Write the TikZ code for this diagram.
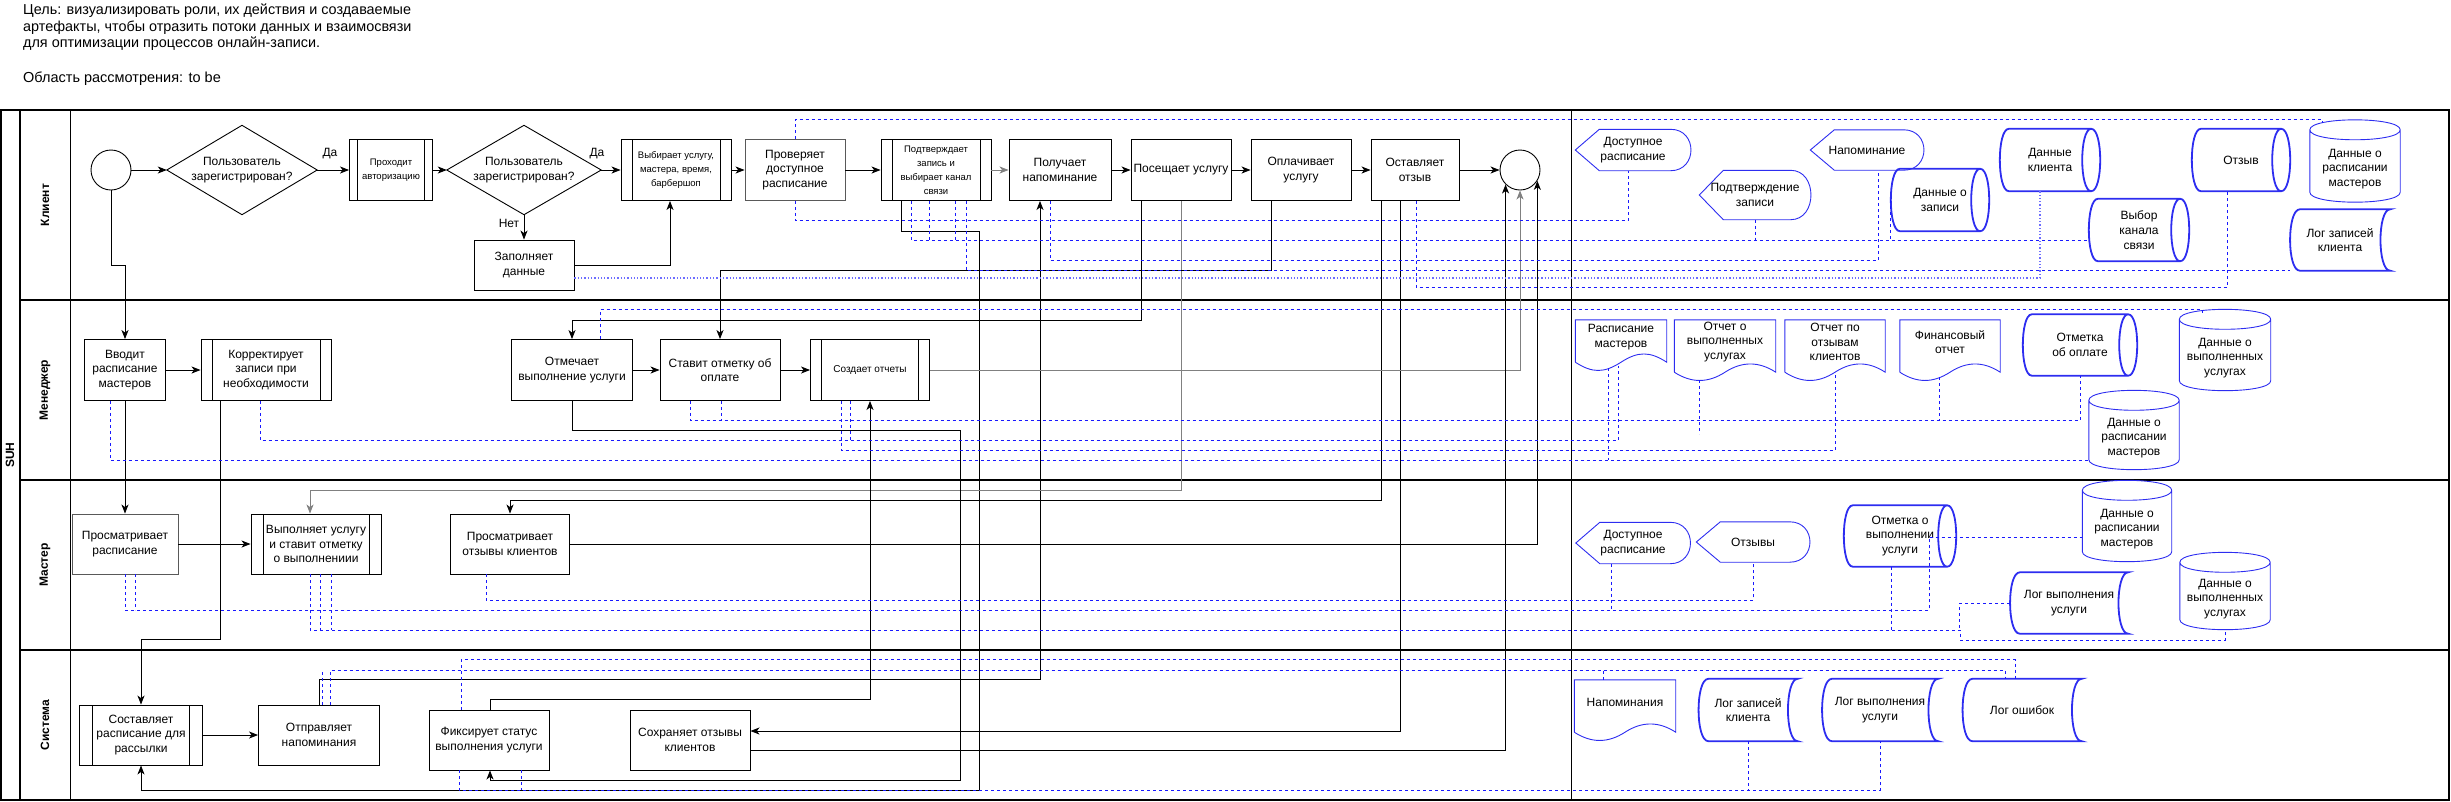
\documentclass[tikz,border=0pt]{standalone}
\usepackage{fontspec}
\setmainfont{Liberation Sans}
\usetikzlibrary{arrows.meta, calc}
\definecolor{artblue}{RGB}{45,45,240}
\definecolor{linkblue}{RGB}{25,25,255}
\definecolor{dotblue}{RGB}{110,110,255}
\definecolor{graylink}{RGB}{128,128,128}
\newcommand{\boxfont}{\fontsize{12}{14.4}\selectfont}
\newcommand{\smallfont}{\fontsize{9.5}{14}\selectfont}
\newcommand{\artfont}{\fontsize{12}{14.8}\selectfont}
\tikzset{
  pool/.style={draw=black, line width=1.3pt},
  proc/.style={rectangle, draw=black, fill=white, line width=0.9pt,
    minimum width=100pt, minimum height=61pt, inner sep=1pt,
    align=center, font=\boxfont},
  subproc/.style={proc, path picture={
    \draw[line width=0.9pt]
      ([xshift=#1]path picture bounding box.north west) -- ([xshift=#1]path picture bounding box.south west)
      ([xshift=-#1]path picture bounding box.north east) -- ([xshift=-#1]path picture bounding box.south east);}},
  subproc/.default=11pt,
  decis/.style={rectangle, minimum width=150pt, minimum height=89pt, inner sep=0pt,
    align=center, font=\boxfont,
    append after command={\pgfextra{\begin{pgfinterruptpath}
      \draw[line width=0.9pt] (\tikzlastnode.west) -- (\tikzlastnode.north)
        -- (\tikzlastnode.east) -- (\tikzlastnode.south) -- cycle;
    \end{pgfinterruptpath}}}},
  evt/.style={circle, draw=black, fill=white, line width=0.9pt, minimum size=40pt, inner sep=0pt},
  flow/.style={draw=black, line width=0.9pt, -{Stealth[length=9pt, width=7pt, inset=2.5pt]}},
  grayflow/.style={flow, draw=graylink},
  datalink/.style={draw=linkblue, line width=0.7pt, dash pattern=on 3pt off 3pt},
  dotlink/.style={draw=dotblue, line width=1.3pt, dash pattern=on 1.3pt off 2pt},
  lanelbl/.style={rotate=90, font=\bfseries\fontsize{12}{14}\selectfont},
  yesno/.style={font=\boxfont, inner sep=1pt},
  art/.style={rectangle, inner sep=1pt, align=center, font=\artfont},
  thinart/.style={draw=artblue, line width=0.9pt},
  thickart/.style={draw=artblue, line width=1.8pt},
  display/.style={art, append after command={\pgfextra{\begin{pgfinterruptpath}
    \draw[thinart] (\tikzlastnode.west) -- ([xshift=24pt]\tikzlastnode.north west)
      -- ([xshift=-20pt]\tikzlastnode.north east)
      .. controls ([xshift=7pt]\tikzlastnode.north east) and ([xshift=7pt]\tikzlastnode.south east) .. ([xshift=-20pt]\tikzlastnode.south east)
      -- ([xshift=24pt]\tikzlastnode.south west) -- cycle;
    \end{pgfinterruptpath}}}},
  docu/.style={art, append after command={\pgfextra{\begin{pgfinterruptpath}
    \draw[thinart] ([yshift=-8pt]\tikzlastnode.south west) -- (\tikzlastnode.north west)
      -- (\tikzlastnode.north east) -- ([yshift=-8pt]\tikzlastnode.south east)
      .. controls ([xshift=-17pt,yshift=3pt]\tikzlastnode.south east) and ([xshift=17pt,yshift=3pt]\tikzlastnode.south) .. ([yshift=-8pt]\tikzlastnode.south)
      .. controls ([xshift=-17pt,yshift=-19pt]\tikzlastnode.south) and ([xshift=17pt,yshift=-19pt]\tikzlastnode.south west) .. ([yshift=-8pt]\tikzlastnode.south west);
    \end{pgfinterruptpath}}}},
  stored/.style={art, append after command={\pgfextra{\begin{pgfinterruptpath}
    \draw[thickart] ([xshift=10pt]\tikzlastnode.north west) -- (\tikzlastnode.north east)
      .. controls ([xshift=-13pt]\tikzlastnode.north east) and ([xshift=-13pt]\tikzlastnode.south east) .. (\tikzlastnode.south east)
      -- ([xshift=10pt]\tikzlastnode.south west)
      .. controls ([xshift=-3pt]\tikzlastnode.south west) and ([xshift=-3pt]\tikzlastnode.north west) .. ([xshift=10pt]\tikzlastnode.north west);
    \end{pgfinterruptpath}}}},
  hcyl/.style={art, append after command={\pgfextra{\begin{pgfinterruptpath}
    \draw[thickart] ([xshift=9pt]\tikzlastnode.north west) -- ([xshift=-9pt]\tikzlastnode.north east)
      .. controls ([xshift=3pt]\tikzlastnode.north east) and ([xshift=3pt]\tikzlastnode.south east) .. ([xshift=-9pt]\tikzlastnode.south east)
      -- ([xshift=9pt]\tikzlastnode.south west)
      .. controls ([xshift=-3pt]\tikzlastnode.south west) and ([xshift=-3pt]\tikzlastnode.north west) .. ([xshift=9pt]\tikzlastnode.north west)
      ([xshift=-9pt]\tikzlastnode.north east)
      .. controls ([xshift=-21pt]\tikzlastnode.north east) and ([xshift=-21pt]\tikzlastnode.south east) .. ([xshift=-9pt]\tikzlastnode.south east);
    \end{pgfinterruptpath}}}},
  vcyl/.style={art, append after command={\pgfextra{\begin{pgfinterruptpath}
    \draw[thinart] ([yshift=6pt]\tikzlastnode.north west) -- ([yshift=10pt]\tikzlastnode.south west)
      .. controls ([yshift=-3.3pt]\tikzlastnode.south west) and ([yshift=-3.3pt]\tikzlastnode.south east) .. ([yshift=10pt]\tikzlastnode.south east)
      -- ([yshift=6pt]\tikzlastnode.north east)
      .. controls ([yshift=19.3pt]\tikzlastnode.north east) and ([yshift=19.3pt]\tikzlastnode.north west) .. ([yshift=6pt]\tikzlastnode.north west)
      .. controls ([yshift=-7.3pt]\tikzlastnode.north west) and ([yshift=-7.3pt]\tikzlastnode.north east) .. ([yshift=6pt]\tikzlastnode.north east);
    \end{pgfinterruptpath}}}}
}

\begin{document}
\begin{tikzpicture}[x=1pt, y=-1pt]
  \useasboundingbox (0,0) rectangle (2451,801);

  % header
  \node[anchor=north west, align=left, inner sep=0pt, font=\fontsize{14.4}{16.4}\selectfont] (hdr_goal) at (23,4)
    {Цель: визуализировать роли, их действия и создаваемые\\артефакты, чтобы отразить потоки данных и взаимосвязи\\для оптимизации процессов онлайн-записи.};
  \node[anchor=north west, inner sep=0pt, font=\fontsize{14.5}{16}\selectfont] (hdr_scope) at (23,72) {Область рассмотрения: to be};

  % pool and lanes
  \draw[pool] (1,110) rectangle (2449,800);
  \draw[pool] (20,110) -- (20,800);
  \draw[line width=0.7pt] (70,110) -- (70,800);
  \draw[pool] (20,300) -- (2449,300) (20,480) -- (2449,480) (20,650) -- (2449,650);
  \draw[line width=0.7pt] (1571,110) -- (1571,800);
  \node[lanelbl] (lb_suh) at (10,455) {SUH};
  \node[lanelbl] (lb_cl) at (45,205) {Клиент};
  \node[lanelbl] (lb_mg) at (45,390) {Менеджер};
  \node[lanelbl] (lb_ms) at (45,565) {Мастер};
  \node[lanelbl] (lb_sy) at (45,725) {Система};

  % client
  \node[evt] (c_start) at (111,170) {};
  \node[decis] (c_reg1) at (242,170) {Пользователь\\зарегистрирован?};
  \node[subproc=8pt, minimum width=83pt, font=\smallfont] (c_auth) at (391,170) {Проходит\\авторизацию};
  \node[decis, minimum width=154pt] (c_reg2) at (524,170) {Пользователь\\зарегистрирован?};
  \node[proc, minimum height=50pt] (c_fill) at (524,265) {Заполняет\\данные};
  \node[subproc, minimum width=110pt, font=\smallfont] (c_sel) at (676,170) {Выбирает услугу,\\мастера, время,\\барбершоп};
  \node[proc, draw=black!65] (c_chk) at (795,170) {Проверяет\\доступное\\расписание};
  \node[subproc, minimum width=110pt, font=\smallfont] (c_conf) at (936,170) {Подтверждает\\запись и\\выбирает канал\\связи};
  \node[proc, minimum width=102pt] (c_rem) at (1060,170) {Получает\\напоминание};
  \node[proc] (c_visit) at (1181,170) {Посещает услугу};
  \node[proc] (c_pay) at (1301,170) {Оплачивает\\услугу};
  \node[proc, minimum width=88pt] (c_rev) at (1415,170) {Оставляет\\отзыв};
  \node[evt] (c_end) at (1520,170) {};
  \node[yesno] (l_yes1) at (330,154) {Да};
  \node[yesno] (l_yes2) at (597,154) {Да};
  \node[yesno] (l_no) at (509,223) {Нет};

  % manager
  \node[proc, minimum width=81pt] (m_sched) at (125,370) {Вводит\\расписание\\мастеров};
  \node[subproc, minimum width=130pt] (m_corr) at (266,370) {Корректирует\\записи при\\необходимости};
  \node[proc, minimum width=121pt] (m_mark) at (572,370) {Отмечает\\выполнение услуги};
  \node[proc, minimum width=120pt] (m_pay) at (720,370) {Ставит отметку об\\оплате};
  \node[subproc, minimum width=119pt, font=\fontsize{10}{12}\selectfont] (m_rep) at (870,370) {Создает отчеты};

  % master
  \node[proc, minimum width=106pt, minimum height=60pt, draw=black!65] (s_view) at (125,544) {Просматривает\\расписание};
  \node[subproc=12pt, minimum width=130pt, minimum height=60pt] (s_do) at (316,544) {Выполняет услугу\\и ставит отметку\\о выполнениии};
  \node[proc, minimum width=119pt, minimum height=60pt] (s_rev) at (510,544) {Просматривает\\отзывы клиентов};

  % system
  \node[subproc=13pt, minimum width=123pt, minimum height=60pt] (y_plan) at (141,735) {Составляет\\расписание для\\рассылки};
  \node[proc, minimum width=121pt, minimum height=60pt] (y_send) at (319,735) {Отправляет\\напоминания};
  \node[proc, minimum width=120pt, minimum height=60pt] (y_fix) at (489,740) {Фиксирует статус\\выполнения услуги};
  \node[proc, minimum width=120pt, minimum height=60pt] (y_save) at (690,740) {Сохраняет отзывы\\клиентов};

  % artifacts: client
  \node[display, minimum width=115pt, minimum height=41pt] (cl_dr) at (1633,150) {Доступное\\расписание};
  \node[display, minimum width=111pt, minimum height=49pt] (cl_pz) at (1755,195) {Подтверждение\\записи};
  \node[display, minimum width=113pt, minimum height=40pt] (cl_nap) at (1867,150) {Напоминание};
  \node[hcyl, minimum width=98pt, minimum height=62pt] (cl_dz) at (1940,200) {Данные о\\записи};
  \node[hcyl, minimum width=100pt, minimum height=62pt] (cl_dk) at (2050,160) {Данные\\клиента};
  \node[hcyl, minimum width=100pt, minimum height=62pt] (cl_vk) at (2139,230) {Выбор\\канала\\связи};
  \node[hcyl, minimum width=98pt, minimum height=62pt] (cl_otz) at (2241,160) {Отзыв};
  \node[vcyl, minimum width=90pt, minimum height=66pt] (cl_drm) at (2355,169) {Данные о\\расписании\\мастеров};
  \node[stored, minimum width=100pt, minimum height=61pt] (cl_log) at (2340,240) {Лог записей\\клиента};

  % artifacts: manager
  \node[docu, minimum width=91pt, minimum height=34pt] (mg_rm) at (1621,337) {Расписание\\мастеров};
  \node[docu, minimum width=101pt, minimum height=44pt] (mg_ovu) at (1725,342) {Отчет о\\выполненных\\услугах};
  \node[docu, minimum width=100pt, minimum height=44pt] (mg_oo) at (1835,342) {Отчет по\\отзывам\\клиентов};
  \node[docu, minimum width=100pt, minimum height=44pt] (mg_fo) at (1950,342) {Финансовый\\отчет};
  \node[hcyl, minimum width=114pt, minimum height=61pt] (mg_oop) at (2080,345) {Отметка\\об оплате};
  \node[vcyl, minimum width=91pt, minimum height=65pt] (mg_dvu) at (2225,358) {Данные о\\выполненных\\услугах};
  \node[vcyl, minimum width=90pt, minimum height=63pt] (mg_drm) at (2134,438) {Данные о\\расписании\\мастеров};

  % artifacts: master
  \node[display, minimum width=114pt, minimum height=41pt] (ms_dr) at (1633,543) {Доступное\\расписание};
  \node[display, minimum width=113pt, minimum height=40pt] (ms_otz) at (1753,542) {Отзывы};
  \node[hcyl, minimum width=112pt, minimum height=61pt] (ms_ov) at (1900,536) {Отметка о\\выполнении\\услуги};
  \node[vcyl, minimum width=89pt, minimum height=65pt] (ms_drm) at (2127,529) {Данные о\\расписании\\мастеров};
  \node[stored, minimum width=118pt, minimum height=61pt] (ms_log) at (2069,603) {Лог выполнения\\услуги};
  \node[vcyl, minimum width=90pt, minimum height=61pt] (ms_dvu) at (2225,599) {Данные о\\выполненных\\услугах};

  % artifacts: system
  \node[docu, minimum width=101pt, minimum height=44pt] (sy_nap) at (1625,702) {Напоминания};
  \node[stored, minimum width=99pt, minimum height=62pt] (sy_lzk) at (1748,710) {Лог записей\\клиента};
  \node[stored, minimum width=116pt, minimum height=62pt] (sy_lvu) at (1880,710) {Лог выполнения\\услуги};
  \node[stored, minimum width=119pt, minimum height=62pt] (sy_lo) at (2022,710) {Лог ошибок};

  % main flow
  \draw[flow] (c_start) -- (c_reg1);
  \draw[flow] (c_reg1) -- (c_auth);
  \draw[flow] (c_auth) -- (c_reg2);
  \draw[flow] (c_reg2) -- (c_sel);
  \draw[flow] (c_reg2) -- (c_fill);
  \draw[flow] (c_fill.east) -| ([xshift=-6pt]c_sel.south);
  \draw[flow] (c_sel) -- (c_chk);
  \draw[flow] (c_chk) -- (c_conf);
  \draw[grayflow] (c_conf) -- (c_rem);
  \draw[flow] (c_rem) -- (c_visit);
  \draw[flow] (c_visit) -- (c_pay);
  \draw[flow] (c_pay) -- (c_rev);
  \draw[flow] (c_rev) -- (c_end);
  \draw[flow] (m_sched) -- (m_corr);
  \draw[flow] (m_mark) -- (m_pay);
  \draw[flow] (m_pay) -- (m_rep);
  \draw[flow] (s_view) -- (s_do);
  \draw[flow] (y_plan) -- (y_send);

  % between lanes
  \draw[flow] (c_start.south) -- ++(0,75) -| (m_sched.north);
  \draw[flow] (m_sched.south) -- (s_view.north);
  \draw[flow] ([xshift=-46pt]m_corr.south) -- ++(0,238) -| (y_plan.north);
  \draw[flow] ([xshift=-35pt]c_conf.south) -- ++(0,30) -- ++(78,0) -- ++(0,559) -| (y_plan.south);
  \draw[flow] (y_send.north) -- ++(0,-25) -| ([xshift=-20pt]c_rem.south);
  \draw[flow] ([xshift=-40pt]c_visit.south) -- ++(0,119.5) -| (m_mark.north);
  \draw[grayflow] (c_visit.south) -- ++(0,289.5) -| ([xshift=-6pt]s_do.north);
  \draw[flow] ([xshift=-30pt]c_pay.south) -- ++(0,69.5) -| (m_pay.north);
  \draw[flow] ([xshift=-34pt]c_rev.south) -- ++(0,299.5) -| (s_rev.north);
  \draw[flow] ([xshift=-15pt]c_rev.south) |- ([yshift=9pt]y_save.east);
  \draw[grayflow] (m_rep.east) -| (c_end.south);
  \draw[flow] (s_rev.east) -| (c_end.-32);
  \draw[flow] ([yshift=-10pt]y_save.east) -| (c_end.-135);
  \draw[flow] (m_mark.south) -- ++(0,29.5) -- ++(388,0) -- ++(0,350) -| ([xshift=1pt]y_fix.south);
  \draw[flow] ([xshift=1pt]y_fix.north) -- ++(0,-10) -| (m_rep.south);

  % data links: client
  \draw[datalink] (c_chk.north) -- ++(0,-19.5) -| ([xshift=-33pt,yshift=13pt]cl_drm.north);
  \draw[datalink] (c_chk.south) -- ++(0,19.5) -| ([xshift=-5pt]cl_dr.south);
  \draw[datalink] ([xshift=-25pt]c_conf.south) |- ([yshift=-10pt]cl_vk.west);
  \draw[datalink] ([xshift=-7pt]c_conf.south) -- ++(0,39.5);
  \draw[datalink] ([xshift=19pt]c_conf.south) -- ++(0,39.5);
  \draw[datalink] (cl_pz.south) -- ++(0,20.5);
  \draw[datalink] (cl_dz.west) -- ++(0,40);
  \draw[datalink] ([xshift=30pt]c_conf.south) |- (cl_log.south west);
  \draw[datalink] ([xshift=-10pt]c_rem.south) -- ++(0,59.5) -| ([xshift=11pt]cl_nap.south);
  \draw[dotlink] ([yshift=-13pt]c_fill.east) -| ([xshift=-10pt]cl_dk.south);
  \draw[datalink] ([xshift=1pt]c_rev.south) -- ++(0,86.5) -| ([xshift=-14pt]cl_otz.south);

  % data links: manager
  \draw[datalink] ([xshift=28pt]m_mark.north) -- ++(0,-29.5) -| ([xshift=-23pt,yshift=12pt]mg_dvu.north);
  \draw[datalink] ([xshift=-30pt]m_pay.south) -- ++(0,19.5) -| (mg_oop.south);
  \draw[datalink] ([xshift=1pt]m_pay.south) -- ++(0,19.5);
  \draw[datalink] ([xshift=-11pt,yshift=-13pt]mg_fo.south) -- ++(0,43);
  \draw[datalink] ([xshift=-6pt]m_corr.south) -- ++(0,39.5) -| ([xshift=-3pt,yshift=-12pt]mg_rm.south);
  \draw[datalink] ([xshift=-20pt]m_rep.south) -- ++(0,39.5);
  \draw[datalink] ([xshift=-29pt]m_rep.south) -- ++(0,49.5) -| ([yshift=-8pt]mg_oo.south);
  \draw[datalink] ([xshift=-26pt,yshift=-16pt]mg_ovu.south) -- ++(0,54);
  \draw[datalink] ([xshift=-15pt]m_sched.south) |- ([yshift=-22pt]mg_drm.west);
  \draw[datalink] ([xshift=-13pt,yshift=-14pt]mg_rm.south) -- ++(0,92);

  % data links: master
  \draw[datalink] ([xshift=-24pt]s_rev.south) -- ++(0,26) -| (ms_otz.south);
  \draw[datalink] (s_view.south) -- ++(0,36) -- ++(1804,0) |- ([yshift=-8pt]ms_drm.west);
  \draw[datalink] ([xshift=10pt]s_view.south) -- ++(0,36);
  \draw[datalink] ([xshift=-22pt]ms_dr.south) -- ++(0,46.5);
  \draw[datalink] ([xshift=-6pt]s_do.south) -- ++(0,56) -- ++(1650,0) -- ++(0,10) -| (ms_dvu.south);
  \draw[datalink] ([xshift=4pt]s_do.south) -- ++(0,56);
  \draw[datalink] ([xshift=15pt]s_do.south) -- ++(0,56);
  \draw[datalink] ([xshift=-9pt]ms_ov.south) -- ++(0,63.5);
  \draw[datalink] (ms_log.west) -- ++(-50,0) -- ++(0,27);

  % data links: system
  \draw[datalink] ([xshift=-28pt]y_fix.north) -- ++(0,-50) -| ([xshift=-7pt]sy_lo.north);
  \draw[datalink] ([xshift=11pt]y_send.north) -- ++(0,-34.5) -| ([xshift=-17pt]sy_lo.north);
  \draw[datalink] ([xshift=3pt]y_send.north) -- ++(0,-34.5);
  \draw[datalink] ([xshift=-22pt]sy_nap.north) -- ++(0,-10);
  \draw[datalink] ([xshift=-30pt]y_fix.south) -- ++(0,20) -| (sy_lvu.south);
  \draw[datalink] ([xshift=32pt]y_fix.south) -- ++(0,20);
  \draw[datalink] (sy_lzk.south) -- ++(0,49);
\end{tikzpicture}
\end{document}
